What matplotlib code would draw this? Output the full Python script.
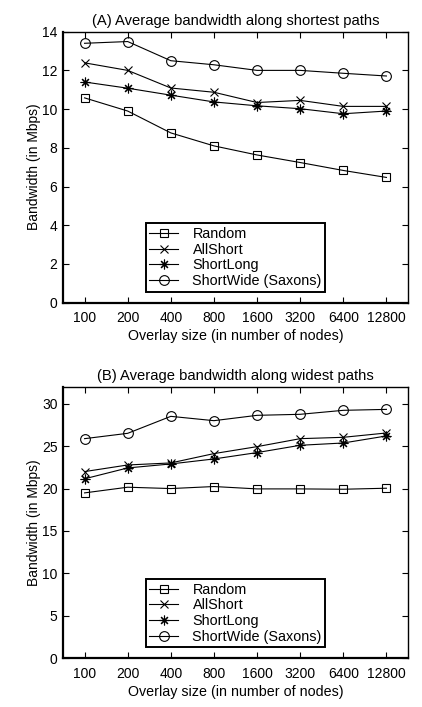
import matplotlib
matplotlib.use("Agg")
import matplotlib.pyplot as plt

plt.rcParams['font.family'] = ['Liberation Sans', 'DejaVu Sans']
plt.rcParams['font.size'] = 10

sizes = [100, 200, 400, 800, 1600, 3200, 6400, 12800]
size_labels = ["100", "200", "400", "800", "1600", "3200", "6400", "12800"]
series_names = ["Random", "AllShort", "ShortLong", "ShortWide (Saxons)"]

short_random = [10.58, 9.90, 8.77, 8.10, 7.63, 7.24, 6.83, 6.47]
short_allshort = [12.39, 12.00, 11.09, 10.87, 10.34, 10.45, 10.14, 10.14]
short_shortlong = [11.40, 11.08, 10.72, 10.37, 10.17, 10.02, 9.76, 9.90]
short_shortwide = [13.40, 13.49, 12.50, 12.29, 12.00, 12.00, 11.85, 11.71]

wide_random = [19.49, 20.16, 20.00, 20.24, 19.96, 19.96, 19.92, 20.04]
wide_allshort = [22.00, 22.78, 23.02, 24.12, 24.94, 25.88, 26.04, 26.55]
wide_shortlong = [21.15, 22.43, 22.90, 23.49, 24.24, 25.10, 25.37, 26.20]
wide_shortwide = [25.88, 26.51, 28.51, 28.00, 28.63, 28.75, 29.22, 29.33]

markers = ['s', 'x', (8, 2, 0), 'o']
msizes = [5.5, 5.5, 7.0, 7.0]

fig = plt.figure(figsize=(4.22, 7.07), dpi=100)
ax1 = fig.add_axes([0.1493, 0.5719, 0.8175, 0.3833])
ax2 = fig.add_axes([0.1493, 0.0689, 0.8175, 0.3841])

def draw(ax, data, ylim, yticks, title):
    for vals, m, ms, name in zip(data, markers, msizes, series_names):
        ax.plot(sizes, vals, color='black', linewidth=0.8, marker=m,
                markersize=ms, markerfacecolor='none', markeredgecolor='black',
                markeredgewidth=0.8, label=name)
    ax.set_xscale('log', base=2)
    ax.set_xlim(100 / 2 ** 0.5, 12800 * 2 ** 0.5)
    ax.set_xticks(sizes)
    ax.set_xticklabels(size_labels)
    ax.minorticks_off()
    ax.set_ylim(*ylim)
    ax.set_yticks(yticks)
    ax.tick_params(direction='in', length=4, width=0.8, top=True, right=True,
                   labelsize=10)
    ax.tick_params(axis='x', pad=6)
    ax.tick_params(axis='y', pad=4)
    for s in ['left', 'bottom']:
        ax.spines[s].set_linewidth(1.6)
    for s in ['top', 'right']:
        ax.spines[s].set_linewidth(1.0)
    ax.set_title(title, fontsize=10.6, pad=5)
    ax.set_xlabel("Overlay size (in number of nodes)", fontsize=10.3, labelpad=3)
    ax.set_ylabel("Bandwidth (in Mbps)", fontsize=10)
    ax.yaxis.set_label_coords(-0.065, 0.5)
    leg = ax.legend(loc='lower center', bbox_to_anchor=(0.5, 0.04),
                    fontsize=10.4, frameon=True, fancybox=False, framealpha=1,
                    edgecolor='black', borderpad=0.25, labelspacing=0.12,
                    handlelength=2.0, handletextpad=1.0, borderaxespad=0)
    leg.get_frame().set_linewidth(1.4)

draw(ax1, [short_random, short_allshort, short_shortlong, short_shortwide],
     (0, 14), [0, 2, 4, 6, 8, 10, 12, 14],
     "(A) Average bandwidth along shortest paths")
draw(ax2, [wide_random, wide_allshort, wide_shortlong, wide_shortwide],
     (0, 32), [0, 5, 10, 15, 20, 25, 30],
     "(B) Average bandwidth along widest paths")

fig.savefig("out.png", dpi=100)
